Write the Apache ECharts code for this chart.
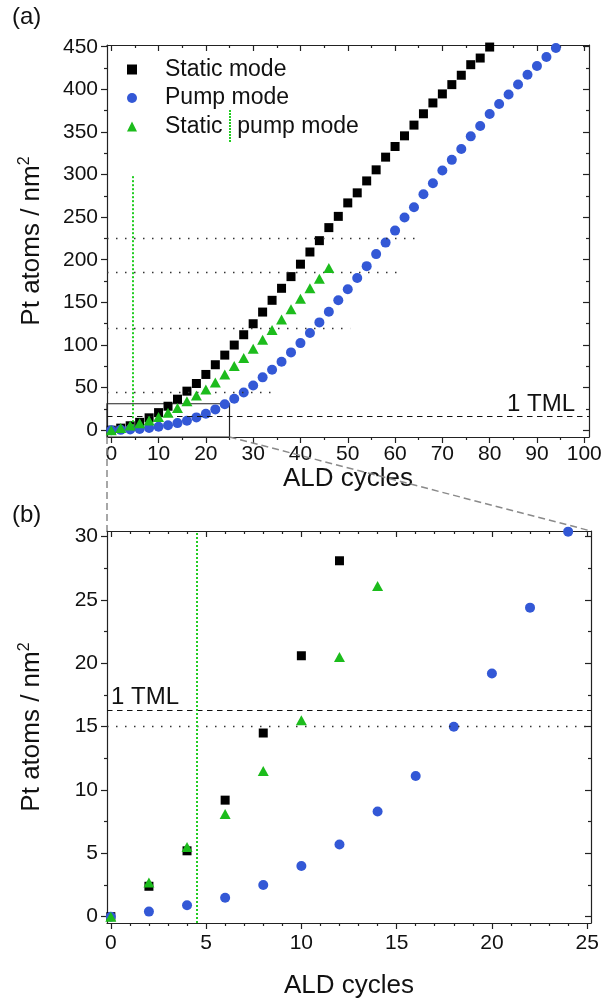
<!DOCTYPE html>
<html>
<head>
<meta charset="utf-8">
<script src="https://cdn.jsdelivr.net/npm/echarts@6/dist/echarts.min.js"></script>
<style>
  html, body { margin: 0; padding: 0; background: #fff; }
  #chart { width: 607px; height: 1000px; }
</style>
</head>
<body>
<div id="chart"></div>
<script>
// ---- data: Pt loading vs. ALD cycles ----
const staticCycles = [0,2,4,6,8,10,12,14,16,18,20,22,24,26,28,30,32,34,36,38,40,
  42,44,46,48,50,52,54,56,58,60,62,64,66,68,70,72,74,76,78,80];
const staticAtoms = [0,2.4,5.2,9.2,14.5,20.6,28.1,36.4,45.8,54.8,65.4,76.8,88.1,99.9,112.0,
  124.9,138.6,152.4,166.5,180.2,194.8,209.1,222.4,237.7,250.9,266.7,278.5,292.5,305.5,320.4,
  332.9,345.4,358.0,371.3,384.0,394.6,405.5,416.5,428.9,436.7,449.6];

const pumpCycles = [0,2,4,6,8,10,12,14,16,18,20,22,24,26,28,30,32,34,36,38,40,42,44,46,
  48,50,52,54,56,58,60,62,64,66,68,70,72,74,76,78,80,82,84,86,88,90,92,94,96];
const pumpAtoms = [0,0.4,0.9,1.5,2.5,4.0,5.7,8.3,11.1,15.0,19.2,24.4,30.4,36.8,44.3,52.5,
  62.0,70.9,80.2,91.3,102.2,114.0,126.5,139.0,152.4,165.3,178.6,192.5,206.6,220.1,234.2,
  249.5,261.7,276.9,289.8,304.7,317.2,330.0,344.8,357.0,371.1,382.8,394.0,405.7,417.1,
  427.3,437.9,448.5,458.0];

const mixedCycles = [0,2,4,6,8,10,12,14,16,18,20,22,24,26,28,30,32,34,36,38,40,42,44,46];
const mixedAtoms = [0,2.7,5.5,8.1,11.5,15.5,20.5,26.1,34.0,40.7,47.8,56.0,65.4,75.4,84.8,
  95.5,106.1,117.6,130.0,141.8,154.3,166.5,177.8,190.3];

const seriesNames = ['Static mode', 'Pump mode', 'Static | pump mode'];

// reference levels
const tmlLevel = 16.3;                 // one theoretical monolayer
const guideLevels = [45, 120, 185, 225];
const guideEnds = [34, 50.5, 61, 65];
const switchCycle = 4.5;               // static -> pump switch
const switchTop = 300;
const zoomDetailLevel = 15;
const zoomBoxMax = [25, 31];

// axis ranges and ticks
const topX = { min: -0.9, max: 101 };
const topY = { min: -8, max: 452 };
const botX = { min: -0.2, max: 25.2 };
const botY = { min: -0.5, max: 30.45 };

const topXMajor = [0,10,20,30,40,50,60,70,80,90,100];
const topXMinor = [5,15,25,35,45,55,65,75,85,95];
const topYMajor = [0,50,100,150,200,250,300,350,400,450];
const topYMinor = [25,75,125,175,225,275,325,375,425];
const botXMajor = [0,5,10,15,20,25];
const botXMinor = [1,2,3,4,6,7,8,9,11,12,13,14,16,17,18,19,21,22,23,24];
const botYMajor = [0,5,10,15,20,25,30];
const botYMinor = [2.5,7.5,12.5,17.5,22.5,27.5];

// ---- styling ----
const FONT = '"Liberation Sans", Arial, sans-serif';
const INK = '#111';
const AXIS = '#222';
const BLACK = '#000000';
const BLUE = '#3358d6';
const GREEN = '#1cbc1c';
const SWITCH_GREEN = '#22cc22';

const grids = [
  { left: 107, top: 45, width: 482, height: 392 },
  { left: 107, top: 531, width: 484, height: 393 }
];

// small dotted stroke used inside the legend text ("Static ┊ pump mode")
function dottedStroke(h) {
  const c = document.createElement('canvas');
  c.width = 2; c.height = h;
  const g = c.getContext('2d');
  g.fillStyle = SWITCH_GREEN;
  for (let y = 0; y < h; y += 3) g.fillRect(0, y, 2, 2);
  return c;
}

// four axes per side pair: labelled major, minor, mirrored major, mirrored minor
function makeAxes(kind, gridIndex, range, major, minor) {
  const main = kind === 'x' ? 'bottom' : 'left';
  const mirror = kind === 'x' ? 'top' : 'right';
  const base = {
    type: 'value', gridIndex, min: range.min, max: range.max,
    splitLine: { show: false }, minorTick: { show: false }, minorSplitLine: { show: false },
    axisPointer: { show: false }
  };
  const labelled = Object.assign({}, base, {
    position: main,
    axisLine: { show: true, onZero: false, lineStyle: { color: AXIS, width: 1.2 } },
    axisTick: { show: true, inside: false, length: 6, customValues: major, lineStyle: { color: AXIS, width: 1.2 } },
    axisLabel: {
      show: true, customValues: major,
      margin: kind === 'x' ? (gridIndex === 0 ? 7 : 10) : 9,
      fontFamily: FONT, fontSize: 21, color: INK
    }
  });
  if (kind === 'x') {
    Object.assign(labelled, {
      name: 'ALD cycles', nameLocation: 'middle', nameGap: gridIndex === 0 ? 19 : 50,
      nameTextStyle: { fontFamily: FONT, fontSize: 26, color: INK }
    });
  } else {
    Object.assign(labelled, {
      name: 'Pt atoms / nm{sup|2}', nameLocation: 'middle', nameGap: 60,
      nameTextStyle: {
        fontFamily: FONT, fontSize: 26, color: INK, lineHeight: 30,
        rich: { sup: { fontFamily: FONT, fontSize: 16, color: INK, verticalAlign: 'top', lineHeight: 16 } }
      }
    });
  }
  const minorMain = Object.assign({}, base, {
    position: main,
    axisLine: { show: false, onZero: false },
    axisTick: { show: true, inside: false, length: 3, customValues: minor, lineStyle: { color: AXIS, width: 1.2 } },
    axisLabel: { show: false }
  });
  const mirrorMajor = Object.assign({}, base, {
    position: mirror,
    axisLine: { show: true, onZero: false, lineStyle: { color: AXIS, width: 1.2 } },
    axisTick: { show: true, inside: true, length: 6, customValues: major, lineStyle: { color: AXIS, width: 1.2 } },
    axisLabel: { show: false }
  });
  const mirrorMinor = Object.assign({}, base, {
    position: mirror,
    axisLine: { show: false, onZero: false },
    axisTick: { show: true, inside: true, length: 3, customValues: minor, lineStyle: { color: AXIS, width: 1.2 } },
    axisLabel: { show: false }
  });
  return [labelled, minorMain, mirrorMajor, mirrorMinor];
}

const xAxes = [
  ...makeAxes('x', 0, topX, topXMajor, topXMinor),
  ...makeAxes('x', 1, botX, botXMajor, botXMinor)
];
const yAxes = [
  ...makeAxes('y', 0, topY, topYMajor, topYMinor),
  ...makeAxes('y', 1, botY, botYMajor, botYMinor)
];

const pairs = (xs, ys) => xs.map((x, i) => [x, ys[i]]);

function scatter(name, xs, ys, symbol, size, color, axisIdx, z) {
  return {
    type: 'scatter', name, xAxisIndex: axisIdx, yAxisIndex: axisIdx,
    symbol, symbolSize: size, clip: true, z,
    itemStyle: { color, opacity: 1 },
    emphasis: { disabled: true },
    data: pairs(xs, ys)
  };
}

const dotted = { type: [1.5, 7.5], color: '#333', width: 1.3 };
const dashed = { type: [5.5, 4.5], color: '#111', width: 1.2 };
const switchLine = { type: [2, 2], color: SWITCH_GREEN, width: 2 };
const tmlLabel = (pos, pad, dist) => ({
  show: true, formatter: '1 TML', position: pos, distance: dist, padding: pad,
  fontFamily: FONT, fontSize: 24, color: INK
});

// top panel: full growth curves
const topStatic = scatter(seriesNames[0], staticCycles, staticAtoms, 'rect', 9, BLACK, 0, 3);
topStatic.markLine = {
  silent: true, symbol: 'none', animation: false, precision: 4,
  data: [
    { yAxis: tmlLevel, lineStyle: dashed, label: tmlLabel('insideEndTop', [0, 14, 0, 0], 0) },
    ...guideLevels.map((v, i) => [
      { coord: [topX.min, v], lineStyle: dotted, label: { show: false } },
      { coord: [guideEnds[i], v] }
    ]),
    [
      { coord: [switchCycle, 0], lineStyle: switchLine, label: { show: false } },
      { coord: [switchCycle, switchTop] }
    ]
  ]
};
topStatic.markArea = {
  silent: true, animation: false,
  itemStyle: { color: 'rgba(0,0,0,0)', borderColor: '#222', borderWidth: 1.2 },
  data: [[{ coord: [topX.min, topY.min] }, { coord: zoomBoxMax }]]
};
const topPump = scatter(seriesNames[1], pumpCycles, pumpAtoms, 'circle', 10, BLUE, 0, 4);
const topMixed = scatter(seriesNames[2], mixedCycles, mixedAtoms, 'triangle', [11, 10], GREEN, 0, 5);

// bottom panel: first 25 cycles
const botStatic = scatter(seriesNames[0], staticCycles, staticAtoms, 'rect', 9, BLACK, 4, 3);
botStatic.markLine = {
  silent: true, symbol: 'none', animation: false, precision: 4,
  data: [
    { yAxis: tmlLevel, lineStyle: dashed, label: tmlLabel('insideStartTop', [0, 0, 0, 3], 1) },
    { yAxis: zoomDetailLevel, lineStyle: dotted, label: { show: false } },
    { xAxis: switchCycle, lineStyle: switchLine, label: { show: false } }
  ]
};
const botPump = scatter(seriesNames[1], pumpCycles, pumpAtoms, 'circle', 10, BLUE, 4, 4);
const botMixed = scatter(seriesNames[2], mixedCycles, mixedAtoms, 'triangle', [11, 10], GREEN, 4, 5);

const chart = echarts.init(document.getElementById('chart'), null, { renderer: 'canvas' });

const panelLabels = [
  { type: 'text', left: 12, top: 5, style: { text: '(a)', font: '24px ' + FONT, fill: INK } },
  { type: 'text', left: 12, top: 503, style: { text: '(b)', font: '24px ' + FONT, fill: INK } }
];

chart.setOption({
  animation: false,
  backgroundColor: '#fff',
  textStyle: { fontFamily: FONT },
  grid: grids,
  xAxis: xAxes,
  yAxis: yAxes,
  legend: {
    orient: 'vertical', left: 127, top: 53, padding: 0,
    itemWidth: 10, itemHeight: 10, itemGap: -4.5,
    selectedMode: false,
    textStyle: {
      fontFamily: FONT, fontSize: 23, color: INK, lineHeight: 33, padding: [0, 0, 0, 23],
      rich: {
        sep: {
          width: 2, height: 33, verticalAlign: 'middle',
          backgroundColor: { image: dottedStroke(33) }
        }
      }
    },
    formatter: (name) => name === seriesNames[2] ? 'Static {sep| } pump mode' : name,
    data: seriesNames
  },
  series: [topStatic, topPump, topMixed, botStatic, botPump, botMixed],
  graphic: panelLabels
});

// dashed connectors from the zoom box in (a) to the frame of (b)
const boxLeftBottom = chart.convertToPixel({ xAxisIndex: 0, yAxisIndex: 0 }, [topX.min, topY.min]);
const boxRightBottom = chart.convertToPixel({ xAxisIndex: 0, yAxisIndex: 0 }, [zoomBoxMax[0], topY.min]);
const panelLeftTop = chart.convertToPixel({ xAxisIndex: 4, yAxisIndex: 4 }, [botX.min, botY.max]);
const panelRightTop = chart.convertToPixel({ xAxisIndex: 4, yAxisIndex: 4 }, [botX.max, botY.max]);
const connector = { stroke: '#8a8a8a', lineWidth: 1.5, lineDash: [7, 4] };
chart.setOption({
  graphic: [
    ...panelLabels,
    { type: 'line', z: 1, shape: { x1: boxLeftBottom[0], y1: boxLeftBottom[1], x2: panelLeftTop[0], y2: panelLeftTop[1] }, style: connector },
    { type: 'line', z: 1, shape: { x1: boxRightBottom[0], y1: boxRightBottom[1], x2: panelRightTop[0], y2: panelRightTop[1] }, style: connector }
  ]
}, { replaceMerge: ['graphic'] });
</script>
</body>
</html>
